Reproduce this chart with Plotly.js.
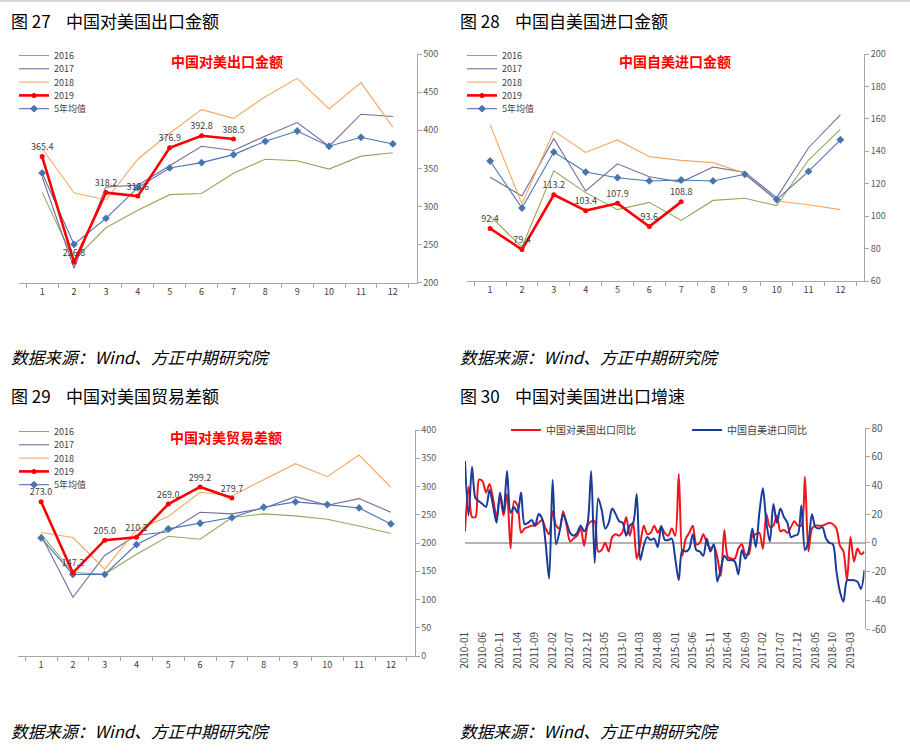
<!DOCTYPE html>
<html><head><meta charset="utf-8">
<script src="https://cdn.plot.ly/plotly-3.0.1.min.js"></script>
<style>body{margin:0;background:#fff;overflow:hidden}#chart{width:910px;height:755px}</style>
</head><body><div id="chart"></div>
<script>
// ---------- DATA ----------
const monthsCat = ['1','2','3','4','5','6','7','8','9','10','11','12'];
const seriesNames = ['2016','2017','2018','2019','5年均值'];

// 图27 中国对美国出口金额 (亿美元)
const exp2016 = [318.5, 230, 272, 295, 315.5, 317, 343.5, 362, 360, 349, 366, 370.5];
const exp2017 = [339, 219, 325.5, 328, 353.5, 379, 373.5, 392.5, 410, 379, 421, 418];
const exp2018 = [376, 318, 308.5, 362, 396, 427, 415.6, 444, 468, 428, 462.5, 404];
const exp2019 = [365.4, 226.8, 318.2, 313.6, 376.9, 392.8, 388.5];
const exp5y   = [344, 250.3, 284.4, 324.7, 350.5, 357.5, 368, 385.5, 399, 379, 390.7, 382];

// 图28 中国自美国进口金额
const imp2016 = [100, 81, 128, 114.5, 104, 108.5, 97.4, 109.7, 111, 106.5, 134.6, 153.5];
const imp2017 = [124, 112.4, 147.8, 115.5, 132.3, 124.3, 121, 130.3, 127, 111.4, 142.2, 162.4];
const imp2018 = [156.4, 107.5, 152.5, 139.3, 147, 136.7, 134.4, 133, 126.4, 109.3, 107, 104];
const imp2019 = [92.4, 79.4, 113.2, 103.4, 107.9, 93.6, 108.8];
const imp5y   = [134, 105, 139.5, 127.2, 123.7, 121.7, 122.3, 121.7, 125.8, 110.2, 127.6, 147.1];

// 图29 中国对美国贸易差额
const bal2016 = [215.6, 147.8, 145, 180, 212, 206.7, 245, 251.5, 248, 242, 230, 216.7];
const bal2017 = [213.8, 104, 178, 213.8, 220, 254.4, 251.5, 261.5, 282, 266.8, 278.6, 254.4];
const bal2018 = [218.5, 209.7, 153.7, 223.2, 246.8, 289.8, 283.3, 311.5, 340.4, 317.4, 355.7, 298.6];
const bal2019 = [273.0, 147.2, 205.0, 210.2, 269.0, 299.2, 279.7];
const bal5y   = [209, 144.3, 144.3, 197.3, 225, 235, 245, 263.3, 272.7, 268, 262, 233.8];

// 图30 中国对美国进出口增速 (%), 2010-01 .. 2019-07
const yoyStart = {year: 2010, month: 1};
const yoyCount = 115;
const exportYoY = [
  8,39,18,18,44,43,35,41,31,18,33,19,
  34,-4,29,26,7,10,11,12,12,14,16,10,
  6,22,12,10,22,12,1,3,5,10,-2,12,
  15,15,-6,-5,0,-6,4,6,5,8,18,5,
  14,-11,-1,12,6,7,12,7,11,7,5,10,
  5,48,-9,3,7,12,-1,0,6,0,-4,-2,
  -10,-23,9,-10,-11,-11,-4,-1,-8,-8,5,6,
  7,-4,20,11,12,19,8,9,7,11,15,12,
  12,46,-6,10,12,12,12,13,14,13,10,-2,
  -6,-26,4,-13,-4,-8,-6];
const importYoY = [
  57,19,53,31,29,27,25,37,26,14,35,21,
  50,21,25,21,35,13,14,16,12,20,17,0,
  -25,44,-1,8,20,14,7,5,7,12,8,14,
  50,-14,31,23,10,14,24,20,15,14,5,12,
  14,34,-12,-2,4,2,3,-3,12,2,2,3,
  -11,-26,-5,-6,-4,6,-5,-6,-9,3,-6,-1,
  -27,-18,-9,-12,-12,-13,-22,-5,-11,-5,10,-3,
  21,38,14,1,27,14,24,18,14,4,5,6,
  26,-5,1,20,11,10,11,3,0,-1,-20,-34,
  -41,-26,-26,-26,-27,-32,-19];
const yoyNames = ['中国对美国出口同比','中国自美进口同比'];
const yoyTicks = [80,60,40,20,0,-20,-40,-60];

// ---------- HELPERS ----------
const W = 910, H = 755;
const dx = p => p / W;
const dy = p => 1 - p / H;
const months = [];
for (let k = 0; k < yoyCount; k++) {
  const m = yoyStart.month - 1 + k;
  const y = yoyStart.year + Math.floor(m / 12);
  const mm = (m % 12) + 1;
  months.push(y + '-' + (mm < 10 ? '0' + mm : mm));
}
const monthTicks = months.filter((_, k) => k % 5 === 0);

const C16 = '#93a85c', C17 = '#76699e', C18 = '#f5a763', C19 = '#ff0000', C5 = '#4a74b0';
const FONT = 'Noto Sans CJK SC, Roboto, sans-serif';

function panelTraces(ax, ay, leg, d16, d17, d18, d19, d5) {
  const base = {xaxis: ax, yaxis: ay, legend: leg, x: monthsCat, hoverinfo: 'skip'};
  return [
    Object.assign({}, base, {name: seriesNames[0], y: d16, mode: 'lines', line: {color: C16, width: 1.1}, legendrank: 1}),
    Object.assign({}, base, {name: seriesNames[1], y: d17, mode: 'lines', line: {color: C17, width: 1.1}, legendrank: 2}),
    Object.assign({}, base, {name: seriesNames[2], y: d18, mode: 'lines', line: {color: C18, width: 1.1}, legendrank: 3}),
    Object.assign({}, base, {name: seriesNames[4], y: d5, mode: 'lines+markers', line: {color: C5, width: 1.1},
      marker: {symbol: 'diamond', size: 6, color: C5}, legendrank: 5}),
    Object.assign({}, base, {name: seriesNames[3], x: monthsCat.slice(0, d19.length), y: d19, mode: 'lines+markers+text',
      line: {color: C19, width: 2.6}, marker: {symbol: 'circle', size: 5, color: C19},
      text: d19.map(v => v.toFixed(1)), textposition: 'top center',
      textfont: {size: 9, color: '#404040', family: FONT}, legendrank: 4})
  ];
}

const data = [].concat(
  panelTraces('x', 'y', 'legend', exp2016, exp2017, exp2018, exp2019, exp5y),
  panelTraces('x2', 'y2', 'legend2', imp2016, imp2017, imp2018, imp2019, imp5y),
  panelTraces('x3', 'y3', 'legend3', bal2016, bal2017, bal2018, bal2019, bal5y),
  [
    {name: yoyNames[0], x: months, y: exportYoY, xaxis: 'x4', yaxis: 'y4', legend: 'legend4',
     mode: 'lines', line: {color: '#f2141c', width: 2, shape: 'spline', smoothing: 0.8}, hoverinfo: 'skip'},
    {name: yoyNames[1], x: months, y: importYoY, xaxis: 'x4', yaxis: 'y4', legend: 'legend4',
     mode: 'lines', line: {color: '#1a3a9c', width: 2, shape: 'spline', smoothing: 0.8}, hoverinfo: 'skip'}
  ]
);

const AX = '#a6a6a6';
function xcat(domain, anchor) {
  return {domain: domain, anchor: anchor, type: 'category', tickson: 'boundaries', ticks: 'outside', ticklen: 4,
    tickcolor: AX, showline: true, linecolor: AX, linewidth: 1, showgrid: false, zeroline: false,
    tickfont: {size: 9, color: '#404040', family: FONT}, fixedrange: true, automargin: false};
}
function yright(domain, anchor, range, dtick) {
  return {domain: domain, anchor: anchor, side: 'right', range: range, dtick: dtick, tick0: range[0],
    showline: true, linecolor: AX, linewidth: 1, ticks: 'outside', ticklen: 4, tickcolor: AX,
    showgrid: false, zeroline: false, tickfont: {size: 9, color: '#595959', family: FONT}, fixedrange: true,
    automargin: false};
}
function legendAt(xp, yp) {
  return {x: dx(xp), y: dy(yp), xanchor: 'left', yanchor: 'top', bgcolor: 'rgba(0,0,0,0)',
    font: {size: 9, color: '#404040', family: FONT}, itemwidth: 30, tracegroupgap: 0};
}

const y4dom = [dy(629), dy(428)];
const zeroPos = y4dom[0] + (60 / 140) * (y4dom[1] - y4dom[0]);

function ann(text, xp, yp, opts) {
  return Object.assign({text: text, x: dx(xp), y: dy(yp), xref: 'paper', yref: 'paper', showarrow: false,
    xanchor: 'left', yanchor: 'middle', font: {size: 17, color: '#000', family: FONT}}, opts || {});
}
const titleSp = '\u00A0\u00A0\u00A0\u00A0';
const srcText = '<i>数据来源：Wind、方正中期研究院</i>';
const srcFont = {size: 16.7, color: '#000', family: FONT};

const layout = {
  width: W, height: H, autosize: false, margin: {l: 0, r: 0, t: 0, b: 0, autoexpand: false},
  paper_bgcolor: '#fff', plot_bgcolor: 'rgba(0,0,0,0)', font: {family: FONT},
  xaxis: xcat([dx(18.5), dx(416.5)], 'y'),
  yaxis: yright([dy(282.7), dy(54)], 'x', [200, 500], 50),
  xaxis2: xcat([dx(466.5), dx(864)], 'y2'),
  yaxis2: yright([dy(281), dy(54)], 'x2', [60, 200], 20),
  xaxis3: xcat([dx(17.5), dx(414.5)], 'y3'),
  yaxis3: yright([dy(656), dy(430)], 'x3', [0, 400], 50),
  xaxis4: {domain: [dx(465), dx(864.5)], anchor: 'y4', type: 'category', range: [0, yoyCount - 1],
    tickvals: monthTicks, ticktext: monthTicks, tickangle: -90, ticks: '', showline: false, showgrid: false,
    zeroline: false, tickfont: {size: 10, color: '#404040', family: FONT}, fixedrange: true, automargin: false},
  xaxis5: {overlaying: 'x4', anchor: 'free', position: zeroPos, range: [0, yoyCount - 1],
    tickvals: monthTicks.map((_, k) => k * 5), ticks: 'outside', ticklen: 3, tickcolor: AX,
    showticklabels: false, showline: false, showgrid: false, zeroline: false, fixedrange: true},
  yaxis4: {domain: y4dom, anchor: 'x4', side: 'right', range: [-60, 80], tickvals: yoyTicks,
    ticktext: yoyTicks.map(v => String(v)), showline: true, linecolor: AX, ticks: 'outside', ticklen: 4,
    tickcolor: AX, showgrid: false, zeroline: true, zerolinecolor: '#b4b4b4', zerolinewidth: 1.5,
    tickfont: {size: 10, color: '#595959', family: FONT}, fixedrange: true, automargin: false},
  legend: legendAt(14, 41),
  legend2: legendAt(462, 41),
  legend3: legendAt(14, 417),
  legend4: {x: dx(506), y: dy(430), xanchor: 'left', yanchor: 'middle', orientation: 'h', bgcolor: 'rgba(0,0,0,0)',
    font: {size: 10, color: '#404040', family: FONT}, entrywidth: 136, entrywidthmode: 'pixels', itemwidth: 30},
  showlegend: true,
  shapes: [{type: 'rect', xref: 'paper', yref: 'paper', x0: 0, x1: 1, y0: dy(2), y1: 1,
    fillcolor: '#d4d4d4', line: {width: 0}}],
  annotations: [
    ann('图\u00A027' + titleSp + '中国对美国出口金额', 9, 20),
    ann('图\u00A028' + titleSp + '中国自美国进口金额', 458, 20),
    ann('图\u00A029' + titleSp + '中国对美国贸易差额', 9, 395),
    ann('图\u00A030' + titleSp + '中国对美国进出口增速', 458, 395),
    ann('<b>中国对美出口金额</b>', 227, 61, {xanchor: 'center', font: {size: 14, color: '#ff0000', family: FONT}}),
    ann('<b>中国自美进口金额</b>', 675, 61, {xanchor: 'center', font: {size: 14, color: '#ff0000', family: FONT}}),
    ann('<b>中国对美贸易差额</b>', 226, 437, {xanchor: 'center', font: {size: 14, color: '#ff0000', family: FONT}}),
    ann(srcText, 9, 357, {font: srcFont}),
    ann(srcText, 458, 357, {font: srcFont}),
    ann(srcText, 9, 731, {font: srcFont}),
    ann(srcText, 458, 731, {font: srcFont})
  ]
};

// compact the vertical legends (reference rows are ~13px apart)
function compactLegends(gd) {
  const groups = gd.querySelectorAll('.infolayer > g');
  groups.forEach(g => {
    const items = Array.from(g.querySelectorAll('g.traces'));
    if (items.length < 3) return;
    const pos = items.map(it => {
      const m = /translate\(\s*([-\d.e]+)[ ,]+([-\d.e]+)\s*\)/.exec(it.getAttribute('transform') || '');
      return m ? [parseFloat(m[1]), parseFloat(m[2])] : null;
    });
    if (pos.some(p => !p)) return;
    if (Math.abs(pos[1][1] - pos[0][1]) < 1) return; // horizontal legend
    items.forEach((it, k) => it.setAttribute('transform', 'translate(' + pos[0][0] + ',' + (pos[0][1] + k * 13.3) + ')'));
  });
}

Plotly.newPlot('chart', data, layout, {displayModeBar: false, staticPlot: true}).then(compactLegends);
</script>
</body></html>
